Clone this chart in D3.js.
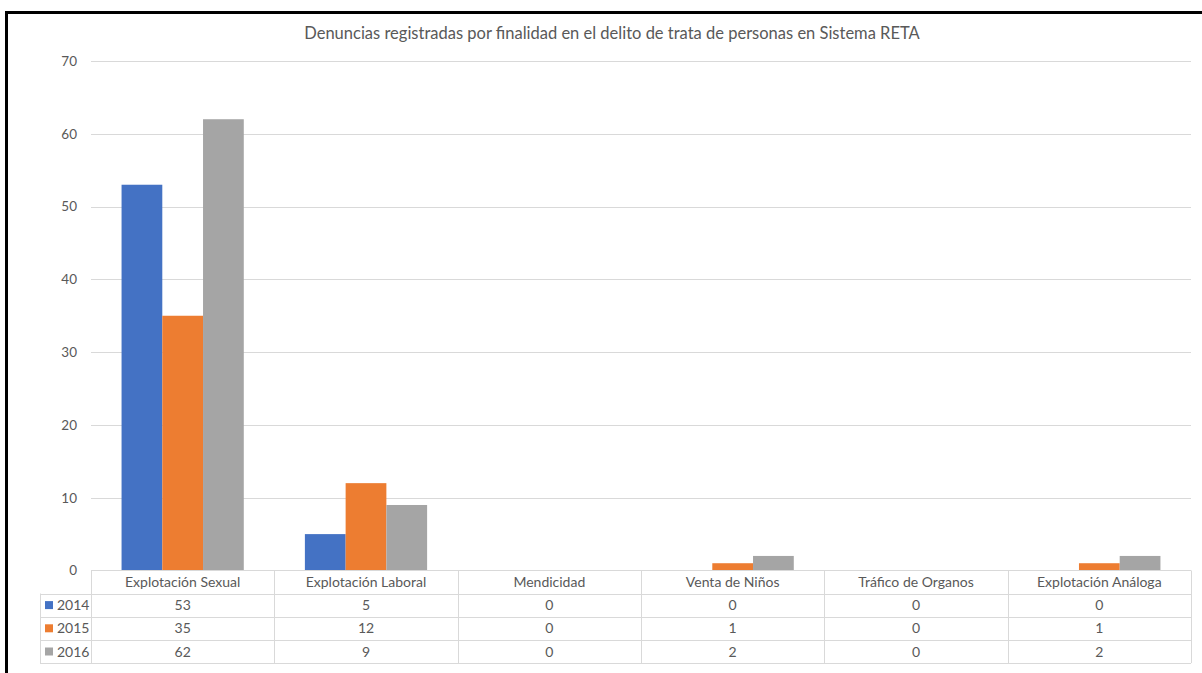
<!DOCTYPE html>
<html>
<head>
<meta charset="utf-8">
<script src="https://cdn.jsdelivr.net/npm/d3@7"></script>
<style>
  html, body { margin: 0; padding: 0; background: #fff; }
  svg { display: block; }
  text { font-family: Lato, "Open Sans", sans-serif; fill: #595959; }
</style>
</head>
<body>
<svg id="chart" width="1202" height="673"></svg>
<script>
const title = "Denuncias registradas por finalidad en el delito de trata de personas en Sistema RETA";
const categories = ["Explotación Sexual", "Explotación Laboral", "Mendicidad", "Venta de Niños", "Tráfico de Organos", "Explotación Análoga"];
const seriesNames = ["2014", "2015", "2016"];
const values2014 = [53, 5, 0, 0, 0, 0];
const values2015 = [35, 12, 0, 1, 0, 1];
const values2016 = [62, 9, 0, 2, 0, 2];
const colors = ["#4472C4", "#ED7D31", "#A5A5A5"];
const yTicks = [0, 10, 20, 30, 40, 50, 60, 70];

const series = seriesNames.map((name, i) => ({ name, color: colors[i], values: [values2014, values2015, values2016][i] }));

const svg = d3.select("#chart");
const plot = { left: 91, right: 1191, top: 61, bottom: 570.5 };
const tableLeft = 40;
const rowH = 23.2;
const headerH = 23;

// frame borders (black, top and left)
svg.append("line").attr("x1", 6.5).attr("x2", 1202).attr("y1", 12.5).attr("y2", 12.5)
  .attr("stroke", "#000").attr("stroke-width", 3);
svg.append("line").attr("x1", 6.5).attr("x2", 6.5).attr("y1", 11).attr("y2", 673)
  .attr("stroke", "#000").attr("stroke-width", 3);

// title
svg.append("text").attr("x", 612).attr("y", 38.5).attr("text-anchor", "middle")
  .style("font-size", "16.5px").text(title);

const x0 = d3.scaleBand().domain(categories).range([plot.left, plot.right]).paddingInner(0).paddingOuter(0);
const y = d3.scaleLinear().domain([0, 70]).range([plot.bottom, plot.top]);
// gap width 150% -> inner bars occupy 3/(3+1.5) of the band
const barsW = x0.bandwidth() * 3 / 4.5;
const x1 = d3.scaleBand().domain(seriesNames).range([0, barsW]).padding(0);

// gridlines
const grid = svg.append("g");
grid.selectAll("line").data(yTicks.filter(t => t > 0)).join("line")
  .attr("x1", plot.left).attr("x2", plot.right)
  .attr("y1", d => Math.round(y(d)) + 0.5).attr("y2", d => Math.round(y(d)) + 0.5)
  .attr("stroke", "#D9D9D9").attr("stroke-width", 1);

// y axis labels via d3 axis
const yAxis = svg.append("g").attr("transform", `translate(${plot.left},0)`)
  .call(d3.axisLeft(y).tickValues(yTicks).tickSize(0).tickPadding(14));
yAxis.select(".domain").remove();
yAxis.selectAll("text").style("font-size", "13.5px").attr("fill", "#595959")
  .style("font-family", "Lato, 'Open Sans', sans-serif");

// bars
const gCat = svg.append("g").selectAll("g").data(categories).join("g")
  .attr("transform", c => `translate(${x0(c) + (x0.bandwidth() - barsW) / 2},0)`);
gCat.selectAll("rect").data((c, ci) => series.map(s => ({ s, v: s.values[ci] }))).join("rect")
  .attr("x", d => x1(d.s.name))
  .attr("width", x1.bandwidth())
  .attr("y", d => y(d.v))
  .attr("height", d => y(0) - y(d.v))
  .attr("fill", d => d.s.color);

// data table
const tbl = svg.append("g");
const lineColor = "#D9D9D9";
const tableTop = plot.bottom;
const rowsTop = tableTop + headerH;
const tableBottom = rowsTop + rowH * series.length;
tbl.append("line").attr("x1", plot.left).attr("x2", plot.right).attr("y1", tableTop).attr("y2", tableTop)
  .attr("stroke", lineColor);
for (let i = 0; i <= series.length; i++) {
  const yy = Math.round(rowsTop + rowH * i) + 0.5;
  tbl.append("line").attr("x1", tableLeft).attr("x2", plot.right).attr("y1", yy).attr("y2", yy)
    .attr("stroke", lineColor);
}
const vx = categories.map(c => x0(c)).concat([plot.right]);
vx.forEach(xx => {
  tbl.append("line").attr("x1", Math.round(xx) + 0.5).attr("x2", Math.round(xx) + 0.5)
    .attr("y1", tableTop).attr("y2", tableBottom).attr("stroke", lineColor);
});
tbl.append("line").attr("x1", tableLeft + 0.5).attr("x2", tableLeft + 0.5)
  .attr("y1", rowsTop).attr("y2", tableBottom).attr("stroke", lineColor);

// header labels
tbl.selectAll("text.cat").data(categories).join("text").attr("class", "cat")
  .attr("x", c => x0(c) + x0.bandwidth() / 2).attr("y", tableTop + headerH / 2 + 5)
  .attr("text-anchor", "middle").style("font-size", "14px").text(c => c);

// rows
series.forEach((s, i) => {
  const cy = rowsTop + rowH * i + rowH / 2;
  tbl.append("rect").attr("x", 45).attr("y", cy - 4).attr("width", 8).attr("height", 8).attr("fill", s.color);
  tbl.append("text").attr("x", 57).attr("y", cy + 5).style("font-size", "14px").text(s.name);
  tbl.selectAll(null).data(s.values).join("text")
    .attr("x", (v, ci) => x0(categories[ci]) + x0.bandwidth() / 2).attr("y", cy + 5)
    .attr("text-anchor", "middle").style("font-size", "14px").text(v => v);
});
</script>
</body>
</html>
